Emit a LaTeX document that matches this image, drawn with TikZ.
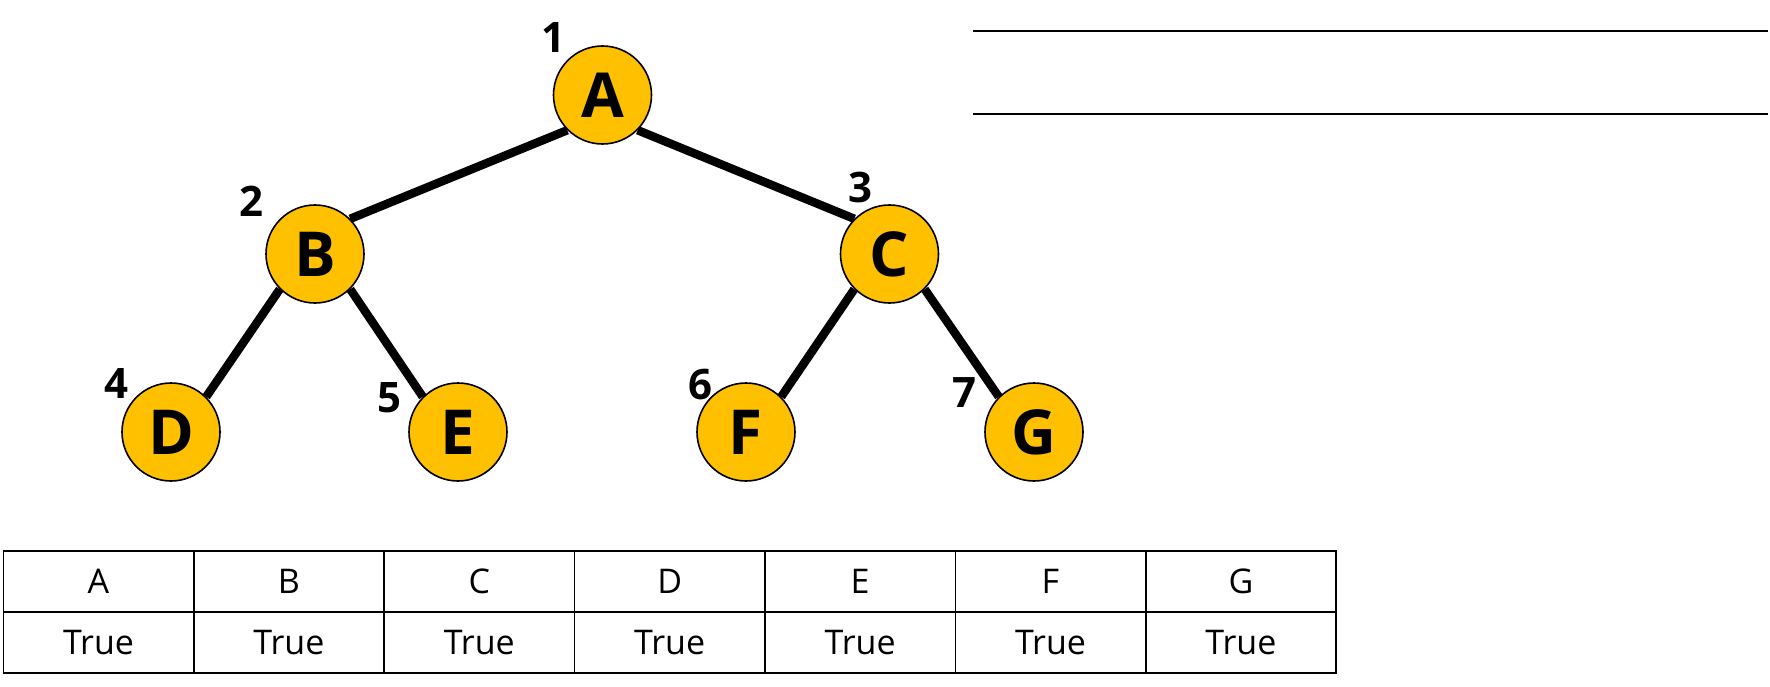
\documentclass[tikz,border=0pt]{standalone}
\usepackage{fontspec}
\setmainfont{Open Sans}
\usetikzlibrary{backgrounds}
\definecolor{gold}{HTML}{FFC000}
\begin{document}
\begin{tikzpicture}[x=1pt,y=-1pt,
  tnode/.style={circle,draw=black,line width=1.6pt,fill=gold,minimum size=98pt,inner sep=0pt,font=\fontsize{62}{62}\selectfont\bfseries},
  num/.style={font=\fontsize{42}{42}\selectfont\bfseries,inner sep=0pt},
  edge/.style={line width=8.5pt},
  cell/.style={draw=black,line width=1.6pt,minimum width=190.4pt,minimum height=61pt,inner sep=0pt,anchor=north west,font=\fontsize{34}{34}\selectfont},
  rule/.style={line width=2pt}]
\useasboundingbox (0,0) rectangle (1770,687);
\node[tnode] (A) at (602.5,95) {A};
\node[tnode] (B) at (315,254) {B};
\node[tnode] (C) at (889.5,254) {C};
\node[tnode] (D) at (171,432) {D};
\node[tnode] (E) at (458,432) {E};
\node[tnode] (F) at (746,432) {F};
\node[tnode] (G) at (1034,432) {G};
\begin{pgfonlayer}{background}
\draw[edge] (A.south west) -- (B.north east);
\draw[edge] (A.south east) -- (C.north west);
\draw[edge] (B.south west) -- (D.north east);
\draw[edge] (B.south east) -- (E.north west);
\draw[edge] (C.south west) -- (F.north east);
\draw[edge] (C.south east) -- (G.north west);
\end{pgfonlayer}
\node[num] (n1) at (553,38) {1};
\node[num] (n2) at (251,201) {2};
\node[num] (n3) at (860,187) {3};
\node[num] (n4) at (116,384) {4};
\node[num] (n5) at (389,398) {5};
\node[num] (n6) at (700,385) {6};
\node[num] (n7) at (964,393) {7};
\coordinate (l1a) at (973,31);
\coordinate (l1b) at (1768,31);
\coordinate (l2a) at (973,114);
\coordinate (l2b) at (1768,114);
\draw[rule] (l1a) -- (l1b);
\draw[rule] (l2a) -- (l2b);
\foreach \t [count=\i from 0] in {A,B,C,D,E,F,G}{
  \node[cell] (h\i) at ({2.5+190.4*\i},550) {\t};
  \node[cell] (v\i) at ({2.5+190.4*\i},611) {True};
}
\end{tikzpicture}
\end{document}
